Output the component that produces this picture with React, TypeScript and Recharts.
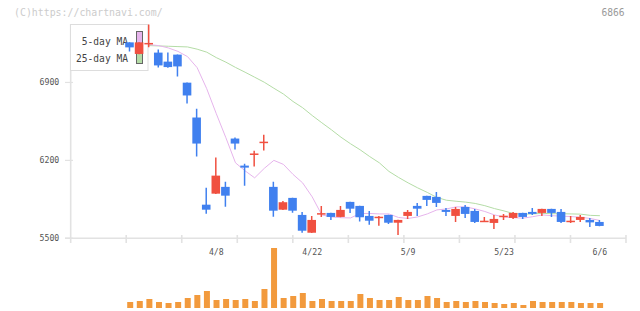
import React from "react";
import { ComposedChart, Bar, Line, XAxis, YAxis } from "recharts";

// ---- data ----
const dates = [
  "3/26", "3/27", "3/28", "3/29", "4/1", "4/2", "4/3", "4/4", "4/5", "4/8",
  "4/9", "4/10", "4/11", "4/12", "4/15", "4/16", "4/17", "4/18", "4/19", "4/22",
  "4/23", "4/24", "4/25", "4/26", "4/30", "5/1", "5/2", "5/7", "5/8", "5/9",
  "5/10", "5/13", "5/14", "5/15", "5/16", "5/17", "5/20", "5/21", "5/22", "5/23",
  "5/24", "5/27", "5/28", "5/29", "5/30", "5/31", "6/3", "6/4", "6/5", "6/6",
];
const opens = [
  7260, 7156, 7250, 7168, 7087, 7150, 6898, 6585, 5802, 5901,
  5962, 6396, 6153, 6255, 6362, 5962, 5757, 5863, 5710, 5550,
  5722, 5728, 5692, 5827, 5791, 5701, 5690, 5710, 5640, 5701,
  5791, 5881, 5872, 5755, 5701, 5782, 5746, 5654, 5638, 5699,
  5683, 5728, 5737, 5728, 5764, 5737, 5654, 5665, 5665, 5647,
];
const highs = [
  7262, 7262, 7420, 7195, 7170, 7152, 6900, 6664, 5955, 6225,
  6007, 6405, 6169, 6286, 6430, 6007, 5836, 5865, 5737, 5701,
  5791, 5730, 5791, 5829, 5793, 5746, 5701, 5712, 5667, 5755,
  5818, 5883, 5917, 5773, 5782, 5800, 5764, 5692, 5710, 5719,
  5737, 5730, 5773, 5766, 5766, 5764, 5701, 5710, 5683, 5665,
];
const lows = [
  7179, 7154, 7217, 7035, 7033, 6954, 6711, 6234, 5721, 5899,
  5784, 6297, 5973, 6144, 6288, 5694, 5755, 5730, 5550, 5548,
  5692, 5665, 5690, 5728, 5650, 5622, 5613, 5629, 5530, 5674,
  5701, 5791, 5782, 5701, 5647, 5683, 5638, 5647, 5584, 5665,
  5674, 5674, 5710, 5701, 5692, 5638, 5638, 5647, 5602, 5609,
];
const closes = [
  7215, 7260, 7255, 7053, 7038, 7044, 6783, 6351, 5757, 6063,
  5883, 6351, 6135, 6262, 6368, 5748, 5824, 5748, 5568, 5665,
  5726, 5692, 5755, 5766, 5689, 5658, 5694, 5640, 5665, 5737,
  5766, 5845, 5818, 5737, 5764, 5719, 5647, 5658, 5674, 5703,
  5728, 5692, 5719, 5764, 5728, 5647, 5658, 5692, 5643, 5611,
];
const ma5 = [
  null, null, 7240, 7231, 7210, 7179, 7132, 7033, 6844, 6619,
  6403, 6178, 6106, 6043, 6128, 6200, 6164, 6074, 5998, 5872,
  5710, 5692, 5685, 5683, 5723, 5723, 5719, 5719, 5687, 5678,
  5692, 5719, 5755, 5764, 5782, 5782, 5764, 5741, 5710, 5692,
  5685, 5681, 5694, 5710, 5703, 5699, 5695, 5689, 5678, 5660,
];
const ma25 = [
  null, null, 7231, 7228, 7225, 7222, 7219, 7199, 7172, 7123,
  7082, 7035, 6992, 6947, 6902, 6848, 6796, 6729, 6673, 6603,
  6538, 6475, 6408, 6349, 6295, 6234, 6178, 6101, 6047, 5998,
  5953, 5912, 5867, 5842, 5833, 5825, 5813, 5793, 5767, 5746,
  5722, 5716, 5719, 5724, 5721, 5721, 5719, 5717, 5706, 5703,
];
const volumes = [
  9000, 10500, 13500, 9000, 7500, 9000, 15000, 19500, 25500, 12000,
  13500, 12000, 13500, 10500, 28500, 90000, 15000, 18000, 22500, 10500,
  13500, 10500, 10500, 10500, 21000, 15000, 12000, 12000, 16500, 12000,
  12000, 18000, 15000, 9000, 10500, 9000, 10500, 9000, 7500, 6000,
  7500, 4500, 10500, 9000, 9000, 9000, 9000, 7500, 7500, 7500,
];
const priceTicks = [5500, 6200, 6900];
const dateTicks = ["4/8", "4/22", "5/9", "5/23", "6/6"];

const data = dates.map((date, i) => ({
  date,
  open: opens[i],
  high: highs[i],
  low: lows[i],
  close: closes[i],
  ma5: ma5[i],
  ma25: ma25[i],
  volume: volumes[i],
}));

// ---- styling ----
const W = 640;
const H = 311;
const PLOT_LEFT = 70.7;
const PLOT_RIGHT = 14;
const PRICE_TOP = 24;
const PRICE_BOTTOM = 238.3;
const X_PAD = { left: 54.5, right: 21.3 };
const RED = "#f05040";
const BLUE = "#4080ef";
const PINK = "#e6b4ec";
const GREEN = "#b4dca6";
const ORANGE = "#f29a3d";
const AXIS = "#e2e2e2";
const MONO = "'DejaVu Sans Mono', monospace";

function Candle(props: any) {
  const { x, y, width, height, payload } = props;
  if (!payload || x == null || y == null) return null;
  const { open, close, high, low } = payload;
  const top = Math.min(y, y + height);
  const h = Math.abs(height);
  const k = high - low > 0 ? h / (high - low) : 0;
  const yOf = (v: number) => top + (high - v) * k;
  const up = close >= open;
  const color = up ? RED : BLUE;
  const cx = x + width / 2;
  const bTop = yOf(Math.max(open, close));
  const bBot = yOf(Math.min(open, close));
  const bh = Math.max(bBot - bTop, 1.5);
  return (
    <g>
      <line x1={cx} x2={cx} y1={top} y2={top + h} stroke={color} strokeWidth={1.5} />
      <rect x={x} y={bTop} width={width} height={bh} fill={color} />
    </g>
  );
}

function PriceTick(props: any) {
  const { x, y, payload } = props;
  return (
    <g>
      <line x1={x - 5.7} x2={x + 2.3} y1={y} y2={y} stroke={AXIS} strokeWidth={1.2} />
      <text x={x - 11.4} y={y + 3} textAnchor="end" fontFamily={MONO} fontSize={8.2} fill="#555">
        {payload.value}
      </text>
    </g>
  );
}

function DateTick(props: any) {
  const { x, y, payload } = props;
  return (
    <text x={x} y={y + 17} textAnchor="middle" fontFamily={MONO} fontSize={8.2} fill="#555">
      {payload.value}
    </text>
  );
}

function Decorations() {
  const plotW = W - PLOT_RIGHT - PLOT_LEFT;
  const divs = Array.from({ length: 10 }, (_, k) => PLOT_LEFT + ((k + 1) * plotW) / 10);
  return (
    <svg width={W} height={H} style={{ position: "absolute", left: 0, top: 0 }}>
      <text x={14} y={15.5} fontFamily={MONO} fontSize={9.9} fill="#cccccc">
        (C)https://chartnavi.com/
      </text>
      <text x={624.5} y={15.5} textAnchor="end" fontFamily={MONO} fontSize={9.6} fill="#9a9a9a">
        6866
      </text>
      <line x1={65} x2={W - PLOT_RIGHT} y1={PRICE_BOTTOM} y2={PRICE_BOTTOM} stroke={AXIS} strokeWidth={1.6} />
      <line x1={PLOT_LEFT} x2={PLOT_LEFT} y1={PRICE_TOP} y2={243} stroke={AXIS} strokeWidth={1.6} />
      {divs.map((dx, i) => (
        <line key={i} x1={dx} x2={dx} y1={235} y2={243} stroke={AXIS} strokeWidth={1.6} />
      ))}
      <rect x={70.5} y={24.5} width={77.5} height={46} fill="#fff" stroke="#dddddd" strokeWidth={1} />
      <text x={128} y={44.5} textAnchor="end" fontFamily={MONO} fontSize={9.6} fill="#444">
        5-day MA
      </text>
      <text x={128} y={61.5} textAnchor="end" fontFamily={MONO} fontSize={9.6} fill="#444">
        25-day MA
      </text>
      <rect x={136.5} y={31.5} width={6} height={15} fill={PINK} stroke="#666" strokeWidth={1} />
      <rect x={136.5} y={48.5} width={6} height={15} fill={GREEN} stroke="#666" strokeWidth={1} />
    </svg>
  );
}

export default function App() {
  return (
    <div style={{ position: "absolute", left: 0, top: 0, width: W, height: H, background: "#fff", overflow: "hidden" }}>
      <Decorations />
      <div style={{ position: "absolute", left: 0, top: 0 }}>
        <ComposedChart
          width={W}
          height={H}
          data={data}
          margin={{ top: PRICE_TOP, right: PLOT_RIGHT, bottom: H - PRICE_BOTTOM - 20, left: 0 }}
        >
          <XAxis
            dataKey="date"
            type="category"
            ticks={dateTicks}
            interval={0}
            padding={X_PAD}
            height={20}
            axisLine={false}
            tickLine={false}
            tickSize={0}
            tickMargin={0}
            tick={<DateTick />}
          />
          <YAxis
            type="number"
            domain={[5500, 7425]}
            allowDataOverflow
            ticks={priceTicks}
            width={PLOT_LEFT}
            axisLine={false}
            tickLine={false}
            tickSize={0}
            tickMargin={0}
            tick={<PriceTick />}
          />
          <Line
            dataKey="ma25"
            type="linear"
            stroke={GREEN}
            strokeWidth={1}
            dot={false}
            activeDot={false}
            isAnimationActive={false}
          />
          <Line
            dataKey="ma5"
            type="linear"
            stroke={PINK}
            strokeWidth={1}
            dot={false}
            activeDot={false}
            isAnimationActive={false}
          />
          <Bar
            dataKey={(d: any) => [d.low, d.high]}
            barSize={8.6}
            shape={<Candle />}
            isAnimationActive={false}
            {...({ zIndex: 450 } as any)}
          />
        </ComposedChart>
      </div>
      <div style={{ position: "absolute", left: 0, top: 0 }}>
        <ComposedChart
          width={W}
          height={H}
          data={data}
          margin={{ top: 248, right: PLOT_RIGHT, bottom: 3, left: PLOT_LEFT }}
        >
          <XAxis dataKey="date" type="category" padding={X_PAD} hide />
          <YAxis type="number" domain={[0, 90000]} hide />
          <Bar dataKey="volume" barSize={6} fill={ORANGE} isAnimationActive={false} />
        </ComposedChart>
      </div>
    </div>
  );
}
